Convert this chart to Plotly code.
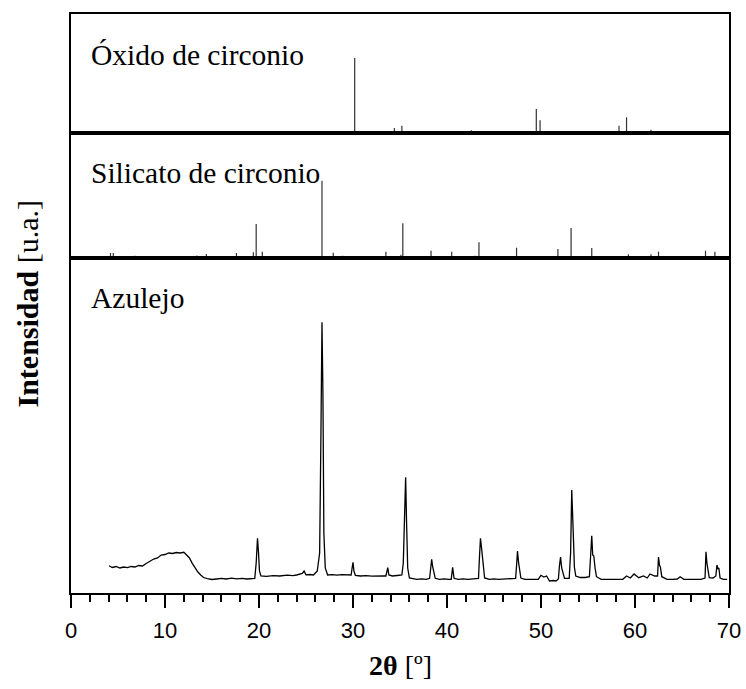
import plotly.graph_objects as go
from plotly.subplots import make_subplots

# ---------------- data ----------------
# Zirconium oxide reference pattern (2theta, relative intensity)
zro2_pos = [30.18, 34.4, 35.2, 42.6, 49.5, 49.9, 58.3, 59.1, 61.7]
zro2_int = [100, 6.7, 9.7, 3.6, 32, 17, 9.7, 21, 4.4]

# Zirconium silicate reference pattern (2theta, relative intensity)
zrsio4_pos = [4.2, 4.5, 6.8, 7.6, 11.2, 13.4, 14.4, 17.6, 19.4, 19.7, 20.35,
              26.7, 27.9, 28.9, 33.5, 35.1, 35.3, 37.5, 38.3, 40.5, 43.0, 43.4,
              47.4, 51.8, 53.2, 55.4, 59.3, 61.7, 62.5, 67.5, 68.5]
zrsio4_int = [6.5, 6.5, 3.0, 2.6, 2.6, 3.2, 5.2, 6.5, 7.4, 44, 8.2,
              100, 6.9, 3.0, 8.2, 4.3, 45, 1.9, 9.4, 8.2, 3.0, 20.3,
              13.3, 11.6, 38.8, 12.9, 4.8, 4.8, 8.2, 9.4, 8.2]

# Tile (Azulejo) measured diffractogram (2theta, intensity a.u.)
tile_2theta = [4.04, 4.4, 4.8, 5.2, 5.6, 6.0, 6.4, 6.8, 7.2, 7.6, 8.0, 8.4, 8.8,
               9.2, 9.6, 10.0, 10.4, 10.8, 11.2, 11.6, 12.0, 12.3, 12.6, 12.9,
               13.2, 13.5, 13.8, 14.1, 14.5, 15.0, 15.5, 16.0, 16.5, 17.1, 17.6,
               18.2, 18.7, 19.2, 19.55, 19.7, 19.84, 19.95, 20.05, 20.2, 20.8,
               21.5, 22.2, 23.0, 23.6, 24.0, 24.6, 24.8, 25.0, 25.4, 25.8, 26.2,
               26.45, 26.58, 26.7, 26.8, 26.9, 27.05, 27.3, 27.8, 28.3, 28.8,
               29.3, 29.8, 29.92, 30.0, 30.1, 30.25, 30.8, 31.4, 32.0, 32.6,
               33.2, 33.5, 33.62, 33.7, 33.82, 34.2, 34.7, 35.2, 35.35, 35.48,
               35.6, 35.7, 35.82, 36.0, 36.3, 36.8, 37.3, 37.8, 38.15, 38.28,
               38.37, 38.48, 38.6, 38.75, 39.2, 39.7, 40.2, 40.45, 40.6, 40.75,
               41.2, 41.7, 42.2, 42.7, 43.35, 43.45, 43.56, 43.7, 43.85, 44.0,
               44.5, 45.0, 45.5, 46.0, 46.5, 47.0, 47.3, 47.42, 47.5, 47.62,
               47.72, 47.86, 48.3, 48.8, 49.3, 49.7, 50.0, 50.3, 50.6, 50.9,
               51.3, 51.6, 51.85, 51.95, 52.08, 52.2, 52.35, 52.5, 53.0, 53.15,
               53.27, 53.37, 53.45, 53.55, 53.7, 54.2, 54.7, 55.15, 55.27, 55.4,
               55.5, 55.62, 55.75, 55.9, 56.4, 57.0, 57.6, 58.2, 58.7, 59.1,
               59.5, 59.9, 60.4, 60.9, 61.3, 61.6, 62.1, 62.4, 62.5, 62.6, 62.7,
               62.85, 63.4, 64.0, 64.5, 64.8, 65.2, 65.8, 66.4, 67.0, 67.45,
               67.55, 67.65, 67.75, 67.9, 68.3, 68.6, 68.72, 68.82, 68.92, 69.05,
               69.4, 69.8]
tile_int = [27.3, 25.5, 26.5, 25.0, 26.0, 25.3, 26.5, 26.0, 27.5, 27.0, 29.5, 31.5, 34.0,
            35.0, 38.0, 38.5, 40.0, 39.5, 40.5, 40.0, 40.7, 38.0, 35.0, 29.7,
            25.0, 21.0, 18.0, 15.5, 14.3, 13.5, 14.0, 14.6, 14.0, 14.8, 14.2,
            14.6, 14.0, 14.4, 14.7, 30.0, 54.7, 40.0, 22.0, 17.0, 16.6,
            17.4, 17.0, 17.8, 17.4, 18.0, 19.5, 22.0, 18.2, 18.5, 18.0, 22.0,
            40.0, 150.0, 270.7, 200.0, 60.0, 25.0, 18.0, 18.4, 17.8, 18.3,
            18.0, 18.0, 26.0, 30.7, 22.0, 17.7, 17.0, 17.3, 16.8, 17.2,
            17.0, 17.0, 24.0, 25.3, 18.0, 17.0, 17.5, 18.0, 30.0, 80.0,
            115.7, 70.0, 25.0, 15.0, 14.7, 13.7, 14.2, 13.7, 14.7, 25.0,
            33.7, 26.0, 20.0, 14.7, 13.7, 14.2, 13.7, 13.7, 25.7, 14.7,
            13.7, 14.2, 13.7, 13.9, 14.5, 35.0, 54.7, 43.0, 25.0, 15.0,
            13.7, 14.2, 13.7, 14.0, 13.7, 14.2, 14.7, 30.0, 42.0, 30.0,
            25.0, 15.0, 13.7, 14.0, 13.7, 13.7, 17.7, 16.0, 17.0, 12.0,
            12.5, 12.0, 14.0, 26.0, 36.0, 25.0, 18.0, 14.7, 14.7, 40.0,
            103.0, 60.0, 55.0, 26.0, 17.0, 15.5, 15.5, 16.3, 38.0, 57.3,
            38.0, 37.0, 25.0, 16.3, 13.7, 13.7, 13.7, 13.7, 13.7, 17.0,
            15.0, 19.0, 15.3, 17.0, 15.0, 19.0, 17.0, 17.0, 36.0, 28.0, 26.0,
            16.3, 13.7, 13.7, 14.0, 16.3, 13.7, 13.7, 14.0, 13.7, 15.0,
            41.3, 30.0, 24.7, 15.3, 15.0, 17.0, 28.0, 24.0, 25.0, 15.0,
            13.7, 13.7]

panel_labels = ["Óxido de circonio", "Silicato de circonio", "Azulejo"]
x_ticks = [0, 10, 20, 30, 40, 50, 60, 70]


def sticks(pos, inten):
    xs, ys = [], []
    for p, v in zip(pos, inten):
        xs += [p, p, None]
        ys += [0, v, None]
    return xs, ys


fig = make_subplots(rows=3, cols=1, shared_xaxes=True, vertical_spacing=0,
                    row_heights=[119, 125, 335])

sx, sy = sticks(zro2_pos, zro2_int)
fig.add_trace(go.Scatter(x=sx, y=sy, mode="lines", line=dict(color="#333333", width=1.2),
                         showlegend=False, hoverinfo="skip"), row=1, col=1)
sx, sy = sticks(zrsio4_pos, zrsio4_int)
fig.add_trace(go.Scatter(x=sx, y=sy, mode="lines", line=dict(color="#333333", width=1.2),
                         showlegend=False, hoverinfo="skip"), row=2, col=1)
fig.add_trace(go.Scatter(x=tile_2theta, y=tile_int, mode="lines",
                         line=dict(color="black", width=1.3), showlegend=False), row=3, col=1)

axis_common = dict(showline=True, mirror=True, linecolor="black", linewidth=1.6,
                   showgrid=False, zeroline=False, automargin=False)
for r in (1, 2, 3):
    fig.update_xaxes(range=[0, 70], row=r, col=1, **axis_common)
    fig.update_yaxes(showticklabels=False, ticks="", row=r, col=1, **axis_common)
fig.update_xaxes(showticklabels=False, ticks="", row=1, col=1)
fig.update_xaxes(showticklabels=False, ticks="", row=2, col=1)
fig.update_xaxes(row=3, col=1, ticks="outside", tickvals=x_ticks, ticklen=13,
                 tickwidth=1.5, tickcolor="black", ticklabelstandoff=4,
                 tickfont=dict(family="Liberation Sans, Arial", size=22, color="black"),
                 minor=dict(dtick=2, ticks="outside", ticklen=7, tickwidth=1.5,
                            tickcolor="black"))
fig.update_yaxes(range=[0, 158.7], row=1, col=1)
fig.update_yaxes(range=[0, 161.7], row=2, col=1)
fig.update_yaxes(range=[0, 335], row=3, col=1)

serif = "Liberation Serif, Times New Roman, serif"
label_y = [(593 - 55) / 579, (593 - 173) / 579, (593 - 298) / 579]
for txt, yy in zip(panel_labels, label_y):
    fig.add_annotation(text=txt, xref="paper", yref="paper", x=18 / 658, y=yy,
                       xanchor="left", yanchor="middle", showarrow=False,
                       font=dict(family=serif, size=29.5, color="black"))

fig.add_annotation(text="<b>Intensidad</b> [u.a.]", xref="paper", yref="paper",
                   x=-44 / 658, y=0.5, textangle=-90, xanchor="center", yanchor="middle",
                   showarrow=False, font=dict(family=serif, size=30, color="black"))
fig.add_annotation(text="<b>2θ</b> [º]", xref="paper", yref="paper",
                   x=0.5, y=(593 - 665) / 579, xanchor="center", yanchor="middle",
                   showarrow=False, font=dict(family=serif, size=28, color="black"))

fig.update_layout(width=746, height=689, margin=dict(l=71, r=17, t=14, b=96),
                  plot_bgcolor="white", paper_bgcolor="white")

fig.write_html("out.html")
